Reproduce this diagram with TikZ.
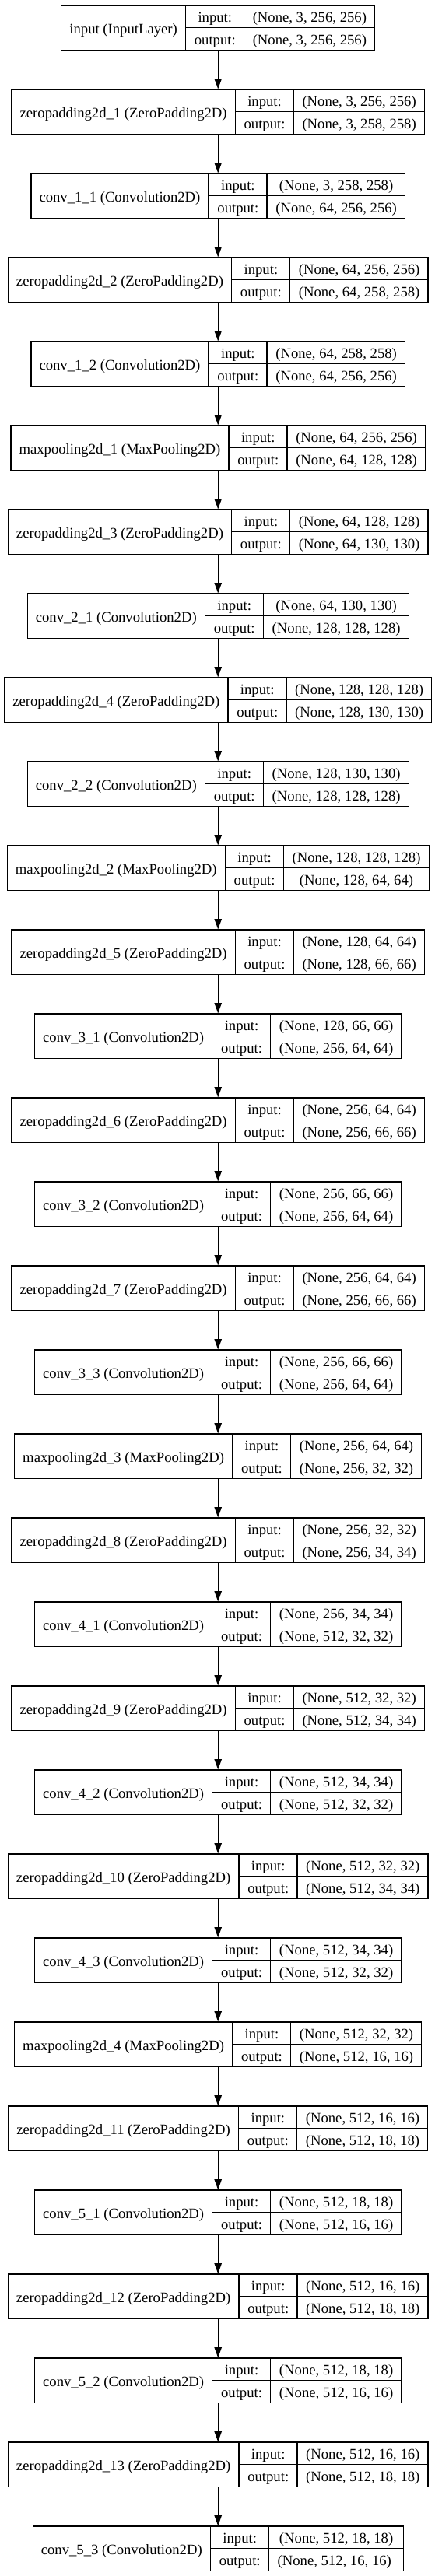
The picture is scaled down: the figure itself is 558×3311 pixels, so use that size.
\documentclass[tikz,border=0pt]{standalone}
\usepackage{fontspec}
\setmainfont{Liberation Serif}
\usetikzlibrary{arrows.meta}

\newlength{\cellpad}
\setlength{\cellpad}{10.67pt}
\setlength{\arrayrulewidth}{1.33pt}
\renewcommand{\arraystretch}{0}
\newcommand{\rowstrut}{\rule[-7pt]{0pt}{28pt}}
\newcommand{\layerbox}[3]{%
  \begin{tabular}{@{\hspace{\cellpad}}c@{\hspace{\cellpad}}|@{}c@{}}
    \raisebox{-3pt}{#1} &
    \begin{tabular}{@{\hspace{\cellpad}}c@{\hspace{\cellpad}}|@{\hspace{\cellpad}}c@{\hspace{\cellpad}}}
      \rowstrut input: & #2 \\ \hline
      \rowstrut output: & #3
    \end{tabular}
  \end{tabular}}

\tikzset{
  layer/.style={draw, line width=1.33pt, inner sep=0pt, anchor=north,
    font=\fontsize{18.67}{22}\selectfont},
  flow/.style={-{Triangle[length=13.3pt, width=9.3pt]}, line width=1.33pt}
}

\begin{document}
\begin{tikzpicture}[x=1pt, y=1pt]
    \useasboundingbox (0,0) rectangle (558,-3311);

    % Layers of the network, top to bottom
    \foreach \i/\layername/\inshape/\outshape in
    { 0/{input (InputLayer)}/{(None, 3, 256, 256)}/{(None, 3, 256, 256)},
      1/{zeropadding2d\_1 (ZeroPadding2D)}/{(None, 3, 256, 256)}/{(None, 3, 258, 258)},
      2/{conv\_1\_1 (Convolution2D)}/{(None, 3, 258, 258)}/{(None, 64, 256, 256)},
      3/{zeropadding2d\_2 (ZeroPadding2D)}/{(None, 64, 256, 256)}/{(None, 64, 258, 258)},
      4/{conv\_1\_2 (Convolution2D)}/{(None, 64, 258, 258)}/{(None, 64, 256, 256)},
      5/{maxpooling2d\_1 (MaxPooling2D)}/{(None, 64, 256, 256)}/{(None, 64, 128, 128)},
      6/{zeropadding2d\_3 (ZeroPadding2D)}/{(None, 64, 128, 128)}/{(None, 64, 130, 130)},
      7/{conv\_2\_1 (Convolution2D)}/{(None, 64, 130, 130)}/{(None, 128, 128, 128)},
      8/{zeropadding2d\_4 (ZeroPadding2D)}/{(None, 128, 128, 128)}/{(None, 128, 130, 130)},
      9/{conv\_2\_2 (Convolution2D)}/{(None, 128, 130, 130)}/{(None, 128, 128, 128)},
      10/{maxpooling2d\_2 (MaxPooling2D)}/{(None, 128, 128, 128)}/{(None, 128, 64, 64)},
      11/{zeropadding2d\_5 (ZeroPadding2D)}/{(None, 128, 64, 64)}/{(None, 128, 66, 66)},
      12/{conv\_3\_1 (Convolution2D)}/{(None, 128, 66, 66)}/{(None, 256, 64, 64)},
      13/{zeropadding2d\_6 (ZeroPadding2D)}/{(None, 256, 64, 64)}/{(None, 256, 66, 66)},
      14/{conv\_3\_2 (Convolution2D)}/{(None, 256, 66, 66)}/{(None, 256, 64, 64)},
      15/{zeropadding2d\_7 (ZeroPadding2D)}/{(None, 256, 64, 64)}/{(None, 256, 66, 66)},
      16/{conv\_3\_3 (Convolution2D)}/{(None, 256, 66, 66)}/{(None, 256, 64, 64)},
      17/{maxpooling2d\_3 (MaxPooling2D)}/{(None, 256, 64, 64)}/{(None, 256, 32, 32)},
      18/{zeropadding2d\_8 (ZeroPadding2D)}/{(None, 256, 32, 32)}/{(None, 256, 34, 34)},
      19/{conv\_4\_1 (Convolution2D)}/{(None, 256, 34, 34)}/{(None, 512, 32, 32)},
      20/{zeropadding2d\_9 (ZeroPadding2D)}/{(None, 512, 32, 32)}/{(None, 512, 34, 34)},
      21/{conv\_4\_2 (Convolution2D)}/{(None, 512, 34, 34)}/{(None, 512, 32, 32)},
      22/{zeropadding2d\_10 (ZeroPadding2D)}/{(None, 512, 32, 32)}/{(None, 512, 34, 34)},
      23/{conv\_4\_3 (Convolution2D)}/{(None, 512, 34, 34)}/{(None, 512, 32, 32)},
      24/{maxpooling2d\_4 (MaxPooling2D)}/{(None, 512, 32, 32)}/{(None, 512, 16, 16)},
      25/{zeropadding2d\_11 (ZeroPadding2D)}/{(None, 512, 16, 16)}/{(None, 512, 18, 18)},
      26/{conv\_5\_1 (Convolution2D)}/{(None, 512, 18, 18)}/{(None, 512, 16, 16)},
      27/{zeropadding2d\_12 (ZeroPadding2D)}/{(None, 512, 16, 16)}/{(None, 512, 18, 18)},
      28/{conv\_5\_2 (Convolution2D)}/{(None, 512, 18, 18)}/{(None, 512, 16, 16)},
      29/{zeropadding2d\_13 (ZeroPadding2D)}/{(None, 512, 16, 16)}/{(None, 512, 18, 18)},
      30/{conv\_5\_3 (Convolution2D)}/{(None, 512, 18, 18)}/{(None, 512, 16, 16)} }
    { \node[layer] (l\i) at (280.2, {-6.4-108*\i}) {\layerbox{\layername}{\inshape}{\outshape}}; }

    % Connections
    \foreach \i in {0,...,29}
    { \pgfmathtruncatemacro\j{\i+1}
      \draw[flow] (l\i) -- (l\j); }
  \end{tikzpicture}
\end{document}
